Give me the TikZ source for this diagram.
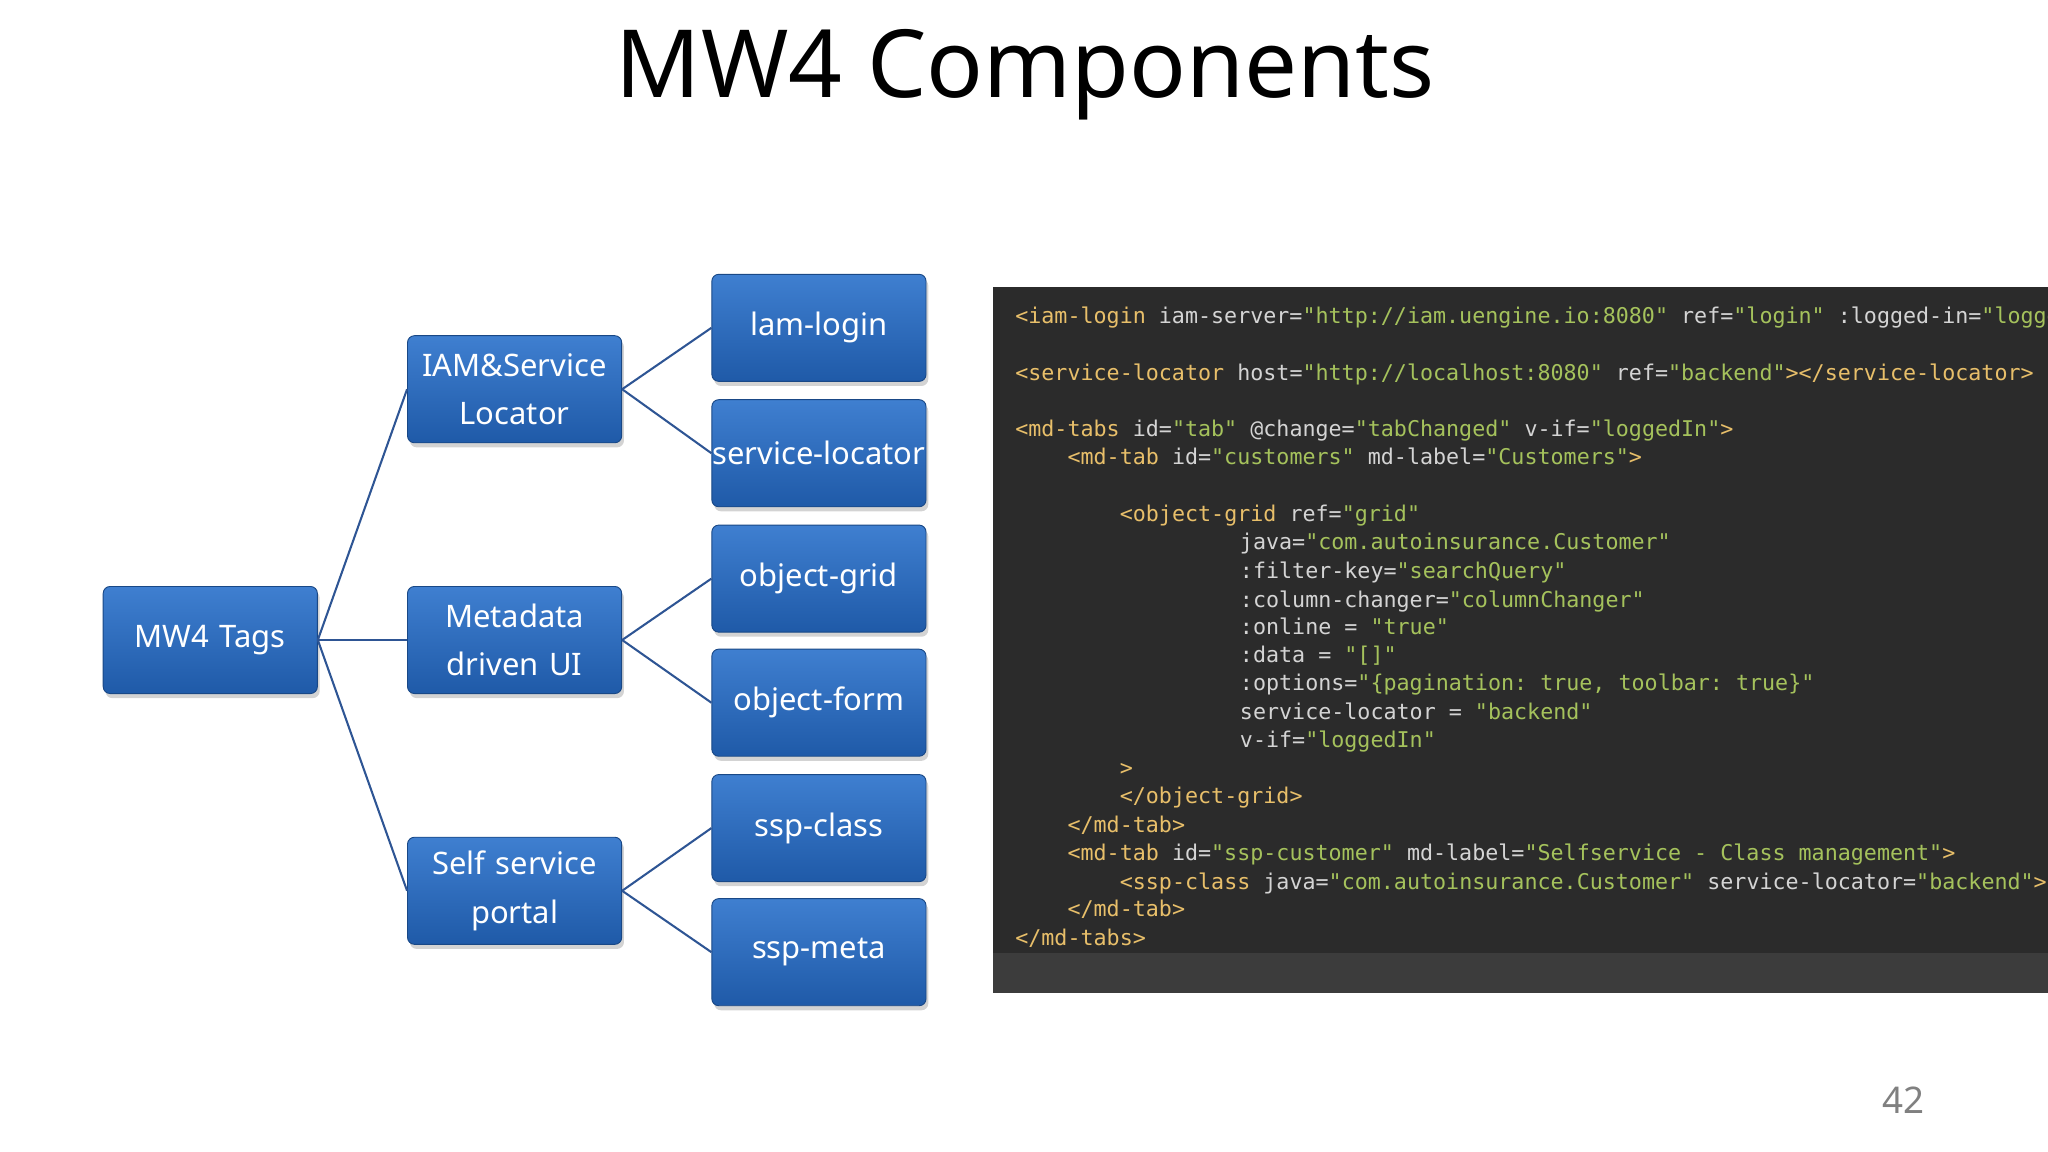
\documentclass[tikz,border=0pt]{standalone}
\usepackage{fontspec}
\setmainfont{Noto Sans}
\setmonofont{DejaVu Sans Mono}
\usetikzlibrary{shadows}
\definecolor{bA}{HTML}{3F7FD0}
\definecolor{bB}{HTML}{1F5AA8}
\definecolor{ln}{HTML}{2E5594}
\definecolor{codebg}{HTML}{2B2B2B}
\definecolor{tagc}{HTML}{E8BF6A}
\definecolor{attc}{HTML}{D4D4D4}
\definecolor{valc}{HTML}{A5C25C}
\newcommand\Tg[1]{\textcolor{tagc}{#1}}
\newcommand\Vl[1]{\textcolor{valc}{#1}}
\begin{document}
\begin{tikzpicture}[x=0.02cm,y=-0.02cm,
 box/.style={rounded corners=3pt,top color=bA,bottom color=bB,draw=bB!80!black,
  minimum width=3.28cm,minimum height=1.64cm,text width=3.26cm,text=white,font=\fontsize{13.5}{21}\selectfont,
  align=center,inner sep=0pt,drop shadow={shadow xshift=1pt,shadow yshift=-2pt,opacity=0.35}},
 conn/.style={draw=ln,line width=0.9pt},
 code/.style={anchor=base west,inner sep=0pt,text=attc,font=\fontsize{9.45}{11}\ttfamily}]
\useasboundingbox (0,0) rectangle (1568,882);
\node (title) at (785,57) {\fontsize{41}{48}\selectfont MW4 Components};
\node[box] (mw4) at (161,490) {MW4 Tags};
\node[box] (iam) at (394,298) {IAM\&Service\\Locator};
\node[box] (meta) at (394,490) {Metadata\\driven UI};
\node[box] (self) at (394,682) {Self service\\portal};
\node[box] (lam) at (627,251) {lam-login};
\node[box] (sl) at (627,347) {\makebox[3.26cm]{service-locator}};
\node[box] (og) at (627,443) {object-grid};
\node[box] (of) at (627,538) {object-form};
\node[box] (sc) at (627,634) {ssp-class};
\node[box] (sm) at (627,729) {ssp-meta};
\foreach \a/\b in {mw4/iam,mw4/meta,mw4/self,iam/lam,iam/sl,meta/og,meta/of,self/sc,self/sm}
  \draw[conn] (\a.east) -- (\b.west);
\fill[codebg] (760,220) rectangle (1568,760);
\fill[codebg!92!white] (760,730) rectangle (1568,760);
\begin{scope}
\clip (760,220) rectangle (1568,760);
\node[code] (c1) at (777,248) {\Tg{<iam-login} iam-server=\Vl{"http://iam.uengine.io:8080"} ref=\Vl{"login"} :logged-in=\Vl{"loggedIn"}};
\node[code] (c2) at (777,291) {\Tg{<service-locator} host=\Vl{"http://localhost:8080"} ref=\Vl{"backend"}\Tg{></service-locator>}};
\node[code] (c3) at (777,334) {\Tg{<md-tabs} id=\Vl{"tab"} @change=\Vl{"tabChanged"} v-if=\Vl{"loggedIn"}\Tg{>}};
\node[code] (c4) at (817,356) {\Tg{<md-tab} id=\Vl{"customers"} md-label=\Vl{"Customers"}\Tg{>}};
\node[code] (c5) at (857,399) {\Tg{<object-grid} ref=\Vl{"grid"}};
\node[code] (c6) at (949,421) {java=\Vl{"com.autoinsurance.Customer"}};
\node[code] (c7) at (949,443) {:filter-key=\Vl{"searchQuery"}};
\node[code] (c8) at (949,465) {:column-changer=\Vl{"columnChanger"}};
\node[code] (c9) at (949,486) {:online = \Vl{"true"}};
\node[code] (c10) at (949,507) {:data = \Vl{"[]"}};
\node[code] (c11) at (949,529) {:options=\Vl{"\{pagination: true, toolbar: true\}"}};
\node[code] (c12) at (949,551) {service-locator = \Vl{"backend"}};
\node[code] (c13) at (949,572) {v-if=\Vl{"loggedIn"}};
\node[code] (c14) at (857,594) {\Tg{>}};
\node[code] (c15) at (857,615) {\Tg{</object-grid>}};
\node[code] (c16) at (817,637) {\Tg{</md-tab>}};
\node[code] (c17) at (817,659) {\Tg{<md-tab} id=\Vl{"ssp-customer"} md-label=\Vl{"Selfservice - Class management"}\Tg{>}};
\node[code] (c18) at (857,681) {\Tg{<ssp-class} java=\Vl{"com.autoinsurance.Customer"} service-locator=\Vl{"backend"}\Tg{>}};
\node[code] (c19) at (817,702) {\Tg{</md-tab>}};
\node[code] (c20) at (777,724) {\Tg{</md-tabs>}};
\end{scope}
\node[text=gray] (pg) at (1457,842) {\fontsize{16}{18}\selectfont 42};
\end{tikzpicture}
\end{document}
